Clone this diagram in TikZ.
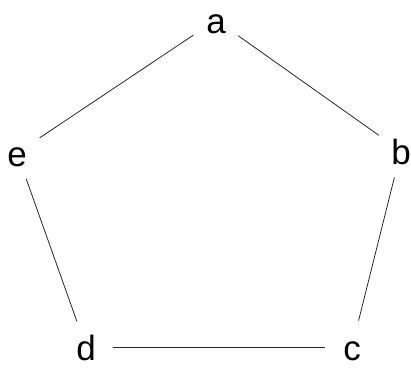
\documentclass[tikz,border=0pt]{standalone}
\usepackage{fontspec}
\setmainfont{Liberation Sans}
\usetikzlibrary{positioning}

\begin{document}
\begin{tikzpicture}[x=1bp,y=-1bp,
        vertex/.style={circle, minimum size=34bp, inner sep=0pt, text height=26bp, text depth=0pt,
          font=\fontsize{35bp}{35bp}\selectfont},
        edge/.style={black!85, line width=0.8pt, shorten <=10bp, shorten >=10bp}
      ]
        \useasboundingbox (0,0) rectangle (411,368);

        % Ecken
        \node[vertex] (a) at (216,20) {a};
        \node[vertex] (b) at (401,151) {b};
        \node[vertex] (c) at (352,347) {c};
        \node[vertex] (d) at (86,347) {d};
        \node[vertex] (e) at (17,153) {e};

        % Kanten
        \draw[edge] (a) -- (b);
        \draw[edge] (b) -- (c);
        \draw[edge] (c) -- (d);
        \draw[edge] (d) -- (e);
        \draw[edge] (e) -- (a);
      \end{tikzpicture}
\end{document}
